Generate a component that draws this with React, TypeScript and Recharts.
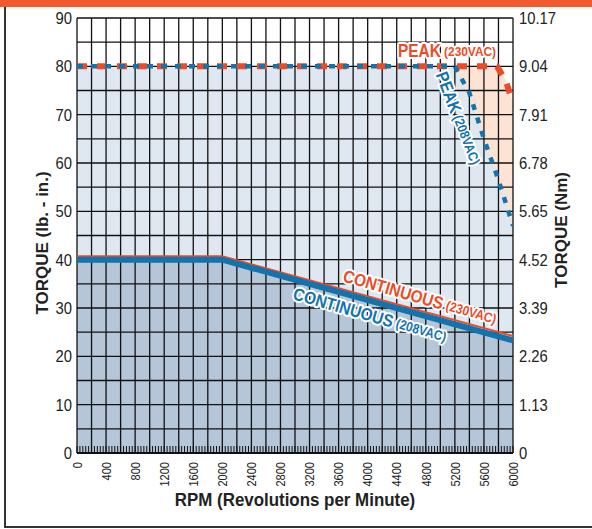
import React from "react";
import {
  ComposedChart,
  Area,
  Line,
  XAxis,
  YAxis,
  ReferenceLine,
  ReferenceDot,
} from "recharts";

// ---------- data ----------
const rpmLabelTicks = [0, 400, 800, 1200, 1600, 2000, 2400, 2800, 3200, 3600, 4000, 4400, 4800, 5200, 5600, 6000];
const torqueTicks = [0, 10, 20, 30, 40, 50, 60, 70, 80, 90];
const nmTickLabels = ["0", "1.13", "2.26", "3.39", "4.52", "5.65", "6.78", "7.91", "9.04", "10.17"];
const gridRpm = Array.from({ length: 31 }, (_, i) => i * 200);
const gridTorque = Array.from({ length: 19 }, (_, i) => i * 5);
const minorRpm = Array.from({ length: 151 }, (_, i) => i * 40);

const peak230 = [
  { rpm: 0, t: 80 },
  { rpm: 5780, t: 80 },
  { rpm: 5900, t: 77 },
  { rpm: 6000, t: 72.5 },
];
const peak208 = [
  { rpm: 0, t: 80 },
  { rpm: 5200, t: 80 },
  { rpm: 5400, t: 74.5 },
  { rpm: 5600, t: 65 },
  { rpm: 5800, t: 56.5 },
  { rpm: 6000, t: 47 },
];
const cont230 = [
  { rpm: 0, t: 40.7 },
  { rpm: 2000, t: 40.7 },
  { rpm: 6000, t: 24.2 },
];
const cont208 = [
  { rpm: 0, t: 40 },
  { rpm: 2000, t: 40 },
  { rpm: 6000, t: 23.3 },
];

const RED = "#ef4a26";
const BLUE = "#1273ad";
const FONT = "'Liberation Sans', Arial, sans-serif";

const annotations = [
  { main: "PEAK", sub: " (230VAC)", rpm: 5092, t: 83.2, angle: 0, color: RED },
  { main: "PEAK", sub: " (208VAC)", rpm: 5257, t: 69.3, angle: 69, color: BLUE },
  { main: "CONTINUOUS", sub: " (230VAC)", rpm: 4720, t: 32.3, angle: 16, color: RED },
  { main: "CONTINUOUS", sub: " (208VAC)", rpm: 4032, t: 28.6, angle: 16, color: BLUE },
];

const labelSet = new Set(rpmLabelTicks);

const XTick = (props: any) => {
  const { x, y, payload } = props;
  if (!labelSet.has(payload.value)) return <g />;
  return (
    <text
      x={0}
      y={0}
      transform={`translate(${x} ${y}) rotate(-90) scale(0.82 1)`}
      textAnchor="end"
      dy="0.35em"
      fontSize={13.5}
      fill="#222"
      fontFamily={FONT}
    >
      {payload.value}
    </text>
  );
};

const YTick = (props: any) => {
  const { x, y, payload, textAnchor, fmt } = props;
  return (
    <text
      x={0}
      y={0}
      transform={`translate(${x} ${y}) scale(0.87 1)`}
      textAnchor={textAnchor}
      dy="0.355em"
      fontSize={17}
      fill="#222"
      fontFamily={FONT}
    >
      {fmt ? fmt(payload.value) : payload.value}
    </text>
  );
};

const nmFmt = (v: number) => nmTickLabels[torqueTicks.indexOf(v)];

const makeLabel = (a: any) => (props: any) => {
  const vb = props.viewBox || {};
  const cx = (vb.x || 0) + (vb.width || 0) / 2;
  const cy = (vb.y || 0) + (vb.height || 0) / 2;
  return (
    <text
      x={0}
      y={0}
      transform={`translate(${cx} ${cy}) rotate(${a.angle}) scale(0.88 1)`}
      textAnchor="middle"
      dominantBaseline="central"
      fill={a.color}
      stroke="#fff"
      strokeWidth={4}
      strokeLinejoin="round"
      paintOrder="stroke"
      fontFamily={FONT}
      fontWeight="bold"
    >
      <tspan fontSize={17.5}>{a.main}</tspan>
      <tspan fontSize={13.5}>{a.sub}</tspan>
    </text>
  );
};

export default function App() {
  return (
    <div style={{ position: "absolute", left: 0, top: 0, width: 592, height: 529, background: "#fff", overflow: "hidden" }}>
      <ComposedChart
        width={592}
        height={529}
        margin={{ top: 18, right: 0, bottom: 0, left: 0 }}
      >
        <XAxis
          xAxisId="x"
          type="number"
          dataKey="rpm"
          domain={[0, 6000]}
          ticks={minorRpm}
          interval={0}
          tickSize={-7}
          tickMargin={16}
          tick={<XTick />}
          tickLine={{ stroke: "#111", strokeWidth: 1 }}
          axisLine={{ stroke: "#111", strokeWidth: 2 }}
          height={76}
          allowDataOverflow
        />
        <YAxis
          yAxisId="left"
          type="number"
          domain={[0, 90]}
          ticks={torqueTicks}
          interval={0}
          width={77}
          tickSize={0}
          tickMargin={5}
          axisLine={false}
          tickLine={false}
          tick={<YTick />}
          allowDataOverflow
        />
        <YAxis
          yAxisId="right"
          orientation="right"
          type="number"
          domain={[0, 90]}
          ticks={torqueTicks}
          interval={0}
          width={79}
          tickSize={0}
          tickMargin={6}
          axisLine={false}
          tickLine={false}
          tick={<YTick fmt={nmFmt} />}
          allowDataOverflow
        />

        <Area xAxisId="x" yAxisId="left" data={peak230} dataKey="t" type="linear" stroke="none" fill="#fde3d4" fillOpacity={1} isAnimationActive={false} />
        <Area xAxisId="x" yAxisId="left" data={peak208} dataKey="t" type="linear" stroke="none" fill="#dfe8f1" fillOpacity={1} isAnimationActive={false} />
        <Area xAxisId="x" yAxisId="left" data={cont208} dataKey="t" type="linear" stroke="none" fill="#b4c6d7" fillOpacity={1} isAnimationActive={false} />

        {gridRpm.map((v) => (
          <ReferenceLine key={"gx" + v} xAxisId="x" yAxisId="left" x={v} stroke="#111" strokeWidth={1.3} />
        ))}
        {gridTorque.map((v) => (
          <ReferenceLine key={"gy" + v} xAxisId="x" yAxisId="left" y={v} stroke="#111" strokeWidth={1.3} />
        ))}

        <Line xAxisId="x" yAxisId="left" data={peak230} dataKey="t" type="linear" stroke={RED} strokeWidth={6} strokeDasharray="10 10" dot={false} activeDot={false} isAnimationActive={false} />
        <Line xAxisId="x" yAxisId="left" data={peak208} dataKey="t" type="linear" stroke={BLUE} strokeWidth={4.5} strokeDasharray="6 8" dot={false} activeDot={false} isAnimationActive={false} />
        <Line xAxisId="x" yAxisId="left" data={cont230} dataKey="t" type="linear" stroke={RED} strokeWidth={2} dot={false} activeDot={false} isAnimationActive={false} />
        <Line xAxisId="x" yAxisId="left" data={cont208} dataKey="t" type="linear" stroke={BLUE} strokeWidth={6} dot={false} activeDot={false} isAnimationActive={false} />

        {annotations.map((a, i) => (
          <ReferenceDot
            key={"an" + i}
            xAxisId="x"
            yAxisId="left"
            x={a.rpm}
            y={a.t}
            r={0}
            fill="none"
            stroke="none"
            label={makeLabel(a)}
          />
        ))}
      </ComposedChart>

      <svg width={592} height={529} style={{ position: "absolute", left: 0, top: 0, pointerEvents: "none" }}>
        <rect x={0} y={0} width={592} height={7} fill="#f15a2e" />
        <rect x={4} y={7} width={2} height={521} fill="#333" />
        <rect x={4} y={526} width={588} height={2} fill="#333" />
        <text x={0} y={0} transform="translate(48 243) rotate(-90)" textAnchor="middle" fontSize={17} fontWeight="bold" fill="#222" fontFamily={FONT}>
          TORQUE (lb. - in.)
        </text>
        <text x={0} y={0} transform="translate(567 230) rotate(-90)" textAnchor="middle" fontSize={17} fontWeight="bold" fill="#222" fontFamily={FONT}>
          TORQUE (Nm)
        </text>
        <text x={0} y={0} transform="translate(295 506) scale(0.94 1)" textAnchor="middle" fontSize={18} fontWeight="bold" fill="#222" fontFamily={FONT}>
          RPM (Revolutions per Minute)
        </text>
      </svg>
    </div>
  );
}
